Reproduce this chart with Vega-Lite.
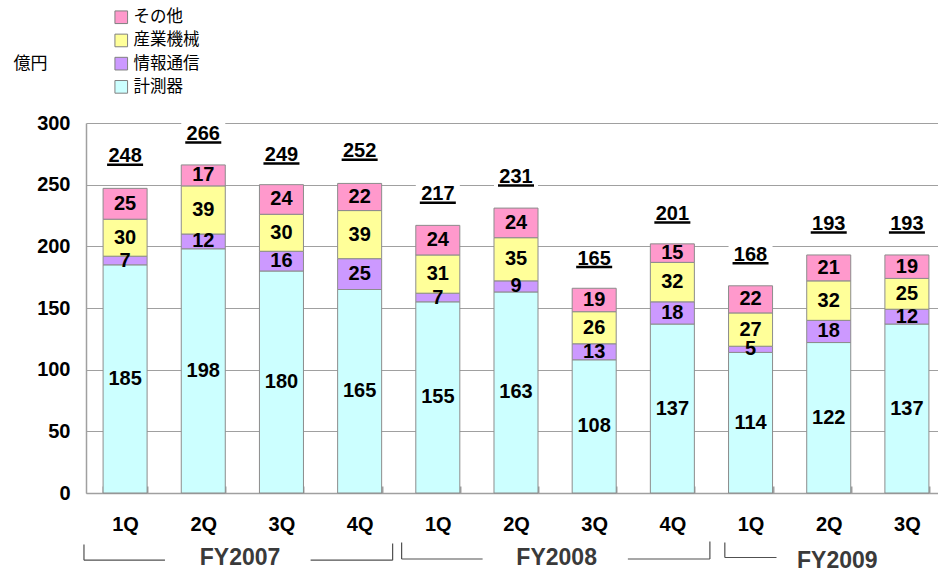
{
  "$schema": "https://vega.github.io/schema/vega-lite/v6.json",
  "autosize": "none",
  "width": 852,
  "height": 370,
  "padding": {"left": 86, "top": 123, "right": 0, "bottom": 83},
  "background": "white",
  "config": {"view": {"stroke": null}},
  "datasets": {
    "bars": [
      {"q": "FY2007 1Q", "cat": "計測器", "k": 1, "v": 185},
      {"q": "FY2007 1Q", "cat": "情報通信", "k": 2, "v": 7},
      {"q": "FY2007 1Q", "cat": "産業機械", "k": 3, "v": 30},
      {"q": "FY2007 1Q", "cat": "その他", "k": 4, "v": 25},
      {"q": "FY2007 2Q", "cat": "計測器", "k": 1, "v": 198},
      {"q": "FY2007 2Q", "cat": "情報通信", "k": 2, "v": 12},
      {"q": "FY2007 2Q", "cat": "産業機械", "k": 3, "v": 39},
      {"q": "FY2007 2Q", "cat": "その他", "k": 4, "v": 17},
      {"q": "FY2007 3Q", "cat": "計測器", "k": 1, "v": 180},
      {"q": "FY2007 3Q", "cat": "情報通信", "k": 2, "v": 16},
      {"q": "FY2007 3Q", "cat": "産業機械", "k": 3, "v": 30},
      {"q": "FY2007 3Q", "cat": "その他", "k": 4, "v": 24},
      {"q": "FY2007 4Q", "cat": "計測器", "k": 1, "v": 165},
      {"q": "FY2007 4Q", "cat": "情報通信", "k": 2, "v": 25},
      {"q": "FY2007 4Q", "cat": "産業機械", "k": 3, "v": 39},
      {"q": "FY2007 4Q", "cat": "その他", "k": 4, "v": 22},
      {"q": "FY2008 1Q", "cat": "計測器", "k": 1, "v": 155},
      {"q": "FY2008 1Q", "cat": "情報通信", "k": 2, "v": 7},
      {"q": "FY2008 1Q", "cat": "産業機械", "k": 3, "v": 31},
      {"q": "FY2008 1Q", "cat": "その他", "k": 4, "v": 24},
      {"q": "FY2008 2Q", "cat": "計測器", "k": 1, "v": 163},
      {"q": "FY2008 2Q", "cat": "情報通信", "k": 2, "v": 9},
      {"q": "FY2008 2Q", "cat": "産業機械", "k": 3, "v": 35},
      {"q": "FY2008 2Q", "cat": "その他", "k": 4, "v": 24},
      {"q": "FY2008 3Q", "cat": "計測器", "k": 1, "v": 108},
      {"q": "FY2008 3Q", "cat": "情報通信", "k": 2, "v": 13},
      {"q": "FY2008 3Q", "cat": "産業機械", "k": 3, "v": 26},
      {"q": "FY2008 3Q", "cat": "その他", "k": 4, "v": 19},
      {"q": "FY2008 4Q", "cat": "計測器", "k": 1, "v": 137},
      {"q": "FY2008 4Q", "cat": "情報通信", "k": 2, "v": 18},
      {"q": "FY2008 4Q", "cat": "産業機械", "k": 3, "v": 32},
      {"q": "FY2008 4Q", "cat": "その他", "k": 4, "v": 15},
      {"q": "FY2009 1Q", "cat": "計測器", "k": 1, "v": 114},
      {"q": "FY2009 1Q", "cat": "情報通信", "k": 2, "v": 5},
      {"q": "FY2009 1Q", "cat": "産業機械", "k": 3, "v": 27},
      {"q": "FY2009 1Q", "cat": "その他", "k": 4, "v": 22},
      {"q": "FY2009 2Q", "cat": "計測器", "k": 1, "v": 122},
      {"q": "FY2009 2Q", "cat": "情報通信", "k": 2, "v": 18},
      {"q": "FY2009 2Q", "cat": "産業機械", "k": 3, "v": 32},
      {"q": "FY2009 2Q", "cat": "その他", "k": 4, "v": 21},
      {"q": "FY2009 3Q", "cat": "計測器", "k": 1, "v": 137},
      {"q": "FY2009 3Q", "cat": "情報通信", "k": 2, "v": 12},
      {"q": "FY2009 3Q", "cat": "産業機械", "k": 3, "v": 25},
      {"q": "FY2009 3Q", "cat": "その他", "k": 4, "v": 19}
    ],
    "totals": [
      {"q": "FY2007 1Q", "total": 248},
      {"q": "FY2007 2Q", "total": 266},
      {"q": "FY2007 3Q", "total": 249},
      {"q": "FY2007 4Q", "total": 252},
      {"q": "FY2008 1Q", "total": 217},
      {"q": "FY2008 2Q", "total": 231},
      {"q": "FY2008 3Q", "total": 165},
      {"q": "FY2008 4Q", "total": 201},
      {"q": "FY2009 1Q", "total": 168},
      {"q": "FY2009 2Q", "total": 193},
      {"q": "FY2009 3Q", "total": 193}
    ],
    "fy": [
      {"fy": "FY2007", "xi": 1.97, "yv": -52.9},
      {"fy": "FY2008", "xi": 6.02, "yv": -52.3},
      {"fy": "FY2009", "xi": 9.61, "yv": -55.5}
    ],
    "brackets": [
      {"xa": -0.026, "xb": -0.026, "ya": -41.8, "yb": -54.5},
      {"xa": -0.026, "xb": 1.01, "ya": -54.5, "yb": -54.5},
      {"xa": 2.873, "xb": 3.922, "ya": -54.5, "yb": -54.5},
      {"xa": 3.922, "xb": 3.922, "ya": -41.0, "yb": -54.5},
      {"xa": 4.037, "xb": 4.037, "ya": -40.1, "yb": -53.5},
      {"xa": 4.037, "xb": 5.073, "ya": -53.5, "yb": -53.5},
      {"xa": 6.931, "xb": 7.98, "ya": -53.5, "yb": -53.5},
      {"xa": 7.98, "xb": 7.98, "ya": -39.3, "yb": -53.5},
      {"xa": 8.171, "xb": 8.171, "ya": -40.1, "yb": -52.3},
      {"xa": 8.171, "xb": 8.832, "ya": -52.3, "yb": -52.3}
    ]
  },
  "resolve": {"scale": {"x": "independent"}, "axis": {"x": "independent"}},
  "layer": [
    {
      "layer": [
        {
          "data": {"name": "bars"},
          "mark": {"type": "bar", "stroke": "#8C8C8C", "strokeWidth": 1},
          "encoding": {
            "x": {
              "field": "q", "type": "nominal", "sort": null,
              "scale": {"range": [0, 860], "paddingInner": 0.437, "paddingOuter": 0.2185},
              "axis": {
                "title": null,
                "labelExpr": "split(datum.label, ' ')[1]",
                "labelAngle": 0,
                "labelFont": "Liberation Sans",
                "labelFontWeight": "bold",
                "labelFontSize": 20,
                "labelColor": "#000000",
                "labelPadding": 28,
                "domainColor": "#A0A0A0",
                "domainWidth": 1.5,
                "tickBand": "extent",
                "tickColor": "#A0A0A0",
                "tickWidth": 2,
                "tickSize": -7,
                "grid": false
              }
            },
            "y": {
              "field": "v", "type": "quantitative", "stack": "zero",
              "scale": {"domain": [0, 300], "nice": false, "zero": true},
              "axis": {
                "values": [0, 50, 100, 150, 200, 250, 300],
                "title": "億円",
                "titleAngle": 0,
                "titleX": -56,
                "titleY": -60,
                "titleAlign": "center",
                "titleBaseline": "middle",
                "titleFont": "Noto Sans CJK JP",
                "titleFontSize": 17,
                "titleFontWeight": "normal",
                "titleColor": "#000000",
                "labelFont": "Liberation Sans",
                "labelFontWeight": "bold",
                "labelFontSize": 20,
                "labelColor": "#000000",
                "labelPadding": 16,
                "ticks": false,
                "tickSize": 0,
                "domainColor": "#A0A0A0",
                "domainWidth": 1.5,
                "grid": true,
                "gridColor": "#A0A0A0",
                "gridWidth": 1
              }
            },
            "order": {"field": "k", "type": "quantitative", "sort": "ascending"},
            "color": {
              "field": "cat", "type": "nominal",
              "scale": {
                "domain": ["その他", "産業機械", "情報通信", "計測器"],
                "range": ["#FF99CC", "#FFFF99", "#CC99FF", "#CCFFFF"]
              },
              "legend": {
                "title": null,
                "orient": "none",
                "legendX": 27,
                "legendY": -114,
                "padding": 0,
                "symbolType": "square",
                "symbolSize": 160,
                "symbolStrokeColor": "#808080",
                "symbolStrokeWidth": 1,
                "symbolOpacity": 1,
                "labelFont": "Noto Sans CJK JP",
                "labelFontSize": 16.5,
                "labelColor": "#000000",
                "labelOffset": 4,
                "rowPadding": 5.2
              }
            }
          }
        },
        {
          "data": {"name": "bars"},
          "mark": {"type": "text", "font": "Liberation Sans", "fontWeight": "bold", "fontSize": 20, "color": "#000000", "baseline": "middle", "align": "center"},
          "encoding": {
            "x": {"field": "q", "type": "nominal", "sort": null},
            "y": {"field": "v", "type": "quantitative", "stack": "zero", "bandPosition": 0.5},
            "order": {"field": "k", "type": "quantitative", "sort": "ascending"},
            "detail": {"field": "cat", "type": "nominal"},
            "text": {"field": "v", "type": "quantitative"}
          }
        },
        {
          "data": {"name": "totals"},
          "mark": {"type": "tick", "color": "white", "opacity": 1, "size": 44, "thickness": 22, "yOffset": -31},
          "encoding": {
            "x": {"field": "q", "type": "nominal", "sort": null},
            "y": {"field": "total", "type": "quantitative"}
          }
        },
        {
          "data": {"name": "totals"},
          "mark": {"type": "text", "font": "Liberation Sans", "fontWeight": "bold", "fontSize": 20, "color": "#000000", "baseline": "alphabetic", "align": "center", "dy": -25},
          "encoding": {
            "x": {"field": "q", "type": "nominal", "sort": null},
            "y": {"field": "total", "type": "quantitative"},
            "text": {"field": "total", "type": "quantitative"}
          }
        },
        {
          "data": {"name": "totals"},
          "mark": {"type": "tick", "color": "#000000", "opacity": 1, "size": 36, "thickness": 2.5, "yOffset": -22.5},
          "encoding": {
            "x": {"field": "q", "type": "nominal", "sort": null},
            "y": {"field": "total", "type": "quantitative"}
          }
        }
      ]
    },
    {
      "layer": [
        {
          "data": {"name": "brackets"},
          "mark": {"type": "rule", "color": "#505050", "strokeWidth": 1.2},
          "encoding": {
            "x": {"field": "xa", "type": "quantitative", "scale": {"domain": [0, 11], "range": [0, 860], "nice": false, "zero": false}, "axis": null},
            "x2": {"field": "xb"},
            "y": {"field": "ya", "type": "quantitative"},
            "y2": {"field": "yb"}
          }
        },
        {
          "data": {"name": "fy"},
          "mark": {"type": "text", "font": "Liberation Sans", "fontWeight": "bold", "fontSize": 23, "color": "#3A3A3A", "baseline": "middle", "align": "center"},
          "encoding": {
            "x": {"field": "xi", "type": "quantitative"},
            "y": {"field": "yv", "type": "quantitative"},
            "text": {"field": "fy", "type": "nominal"}
          }
        }
      ]
    }
  ]
}
